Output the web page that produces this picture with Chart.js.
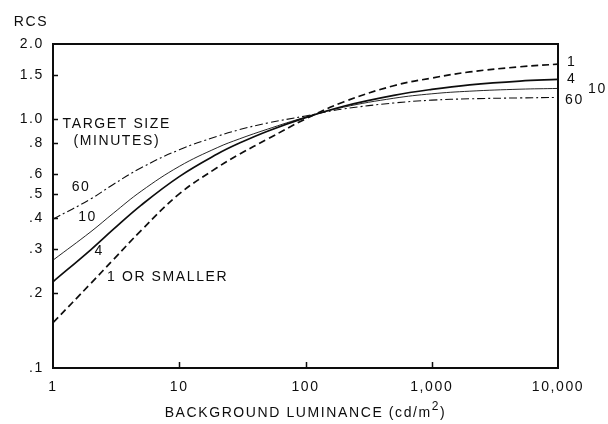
<!DOCTYPE html>
<html>
<head>
<meta charset="utf-8">
<script src="https://cdn.jsdelivr.net/npm/chart.js@4.4.1/dist/chart.umd.min.js"></script>
<style>
  html, body { margin: 0; padding: 0; background: #fff; }
  #wrap { width: 608px; height: 424px; }
</style>
</head>
<body>
<div id="wrap"><canvas id="rcs" width="608" height="424"></canvas></div>
<script>
// background luminance (cd/m2) sample points
const luminance = [1, 2, 3, 5, 10, 20, 30, 50, 100, 200, 500, 1000, 2000, 5000, 10000];

// relative contrast sensitivity per target size (minutes)
const rcs1  = [0.152, 0.219, 0.272, 0.357, 0.500, 0.638, 0.722, 0.830, 1.00, 1.17, 1.36, 1.46, 1.545, 1.62, 1.66];
const rcs4  = [0.222, 0.299, 0.360, 0.451, 0.587, 0.723, 0.800, 0.893, 1.012, 1.125, 1.244, 1.315, 1.371, 1.420, 1.442];
const rcs10 = [0.271, 0.353, 0.418, 0.513, 0.645, 0.767, 0.832, 0.910, 1.017, 1.115, 1.211, 1.262, 1.293, 1.317, 1.326];
const rcs60 = [0.396, 0.478, 0.546, 0.637, 0.752, 0.852, 0.906, 0.963, 1.028, 1.097, 1.159, 1.19, 1.205, 1.215, 1.22];

const seriesNames = ['1', '4', '10', '60'];

const xTicks = [1, 10, 100, 1000, 10000];
const xTickLabels = ['1', '10', '100', '1,000', '10,000'];
const yTicks = [0.1, 0.2, 0.3, 0.4, 0.5, 0.6, 0.8, 1.0, 1.5, 2.0];
const yTickLabels = ['.1', '.2', '.3', '.4', '.5', '.6', '.8', '1.0', '1.5', '2.0'];

// text notes inside the plot, placed in data units
const noteText = ['TARGET SIZE', '(MINUTES)', '60', '10', '4', '1 OR SMALLER'];
const noteX = [3.2, 3.2, 1.67, 1.88, 2.32, 2.68];
const noteY = [0.955, 0.816, 0.531, 0.402, 0.295, 0.231];
const noteAlign = ['center', 'center', 'center', 'center', 'center', 'left'];

const ink = '#0d0d0d';
const FONT = '"Liberation Sans", Arial, Helvetica, sans-serif';

Chart.defaults.font.family = FONT;
Chart.defaults.font.size = 14;
Chart.defaults.color = ink;

const toPts = arr => arr.map((v, i) => ({ x: luminance[i], y: v }));

const lineStyle = [
  { borderWidth: 1.7, borderDash: [7, 4] },
  { borderWidth: 1.7, borderDash: [] },
  { borderWidth: 0.9, borderDash: [] },
  { borderWidth: 1.1, borderDash: [8, 3, 2, 3] }
];

const datasets = [rcs1, rcs4, rcs10, rcs60].map((arr, i) => Object.assign({
  label: seriesNames[i],
  data: toPts(arr),
  borderColor: ink,
  pointRadius: 0,
  fill: false,
  tension: 0.4
}, lineStyle[i]));

// end-of-curve label offsets (px right of the frame)
const endDx = [9, 9, 30, 7];
const endDy = [-2, 0, 1, 3];

const spacing = ctx => { ctx.letterSpacing = '1.6px'; };

const decor = {
  id: 'decor',
  beforeDraw(chart) { spacing(chart.ctx); },
  afterDraw(chart) {
    const { ctx, chartArea: a, scales } = chart;
    const xs = scales.x, ys = scales.y;
    ctx.save();
    spacing(ctx);
    ctx.strokeStyle = ink;
    ctx.lineWidth = 2;
    ctx.strokeRect(a.left, a.top, a.right - a.left, a.bottom - a.top);

    // small inward ticks
    ctx.lineWidth = 1.5;
    ctx.beginPath();
    yTicks.slice(1, -1).forEach(v => {
      const y = Math.round(ys.getPixelForValue(v)) + 0.5;
      ctx.moveTo(a.left, y); ctx.lineTo(a.left + 5, y);
    });
    xTicks.slice(1, -1).forEach(v => {
      const x = Math.round(xs.getPixelForValue(v)) + 0.5;
      ctx.moveTo(x, a.bottom); ctx.lineTo(x, a.bottom - 6);
    });
    ctx.stroke();

    ctx.fillStyle = ink;
    ctx.font = '14px ' + FONT;
    ctx.textBaseline = 'middle';

    noteText.forEach((t, i) => {
      ctx.textAlign = noteAlign[i];
      ctx.fillText(t, xs.getPixelForValue(noteX[i]), ys.getPixelForValue(noteY[i]));
    });

    // labels at the right end of each curve
    ctx.textAlign = 'left';
    datasets.forEach((ds, i) => {
      const last = ds.data[ds.data.length - 1];
      ctx.fillText(ds.label, a.right + endDx[i], ys.getPixelForValue(last.y) + endDy[i]);
    });

    // y axis title
    ctx.textAlign = 'center';
    ctx.fillText('RCS', a.left - 22, a.top - 22);

    // x axis title with superscript
    const main = 'BACKGROUND LUMINANCE (cd/m';
    ctx.font = '14px ' + FONT;
    const w1 = ctx.measureText(main).width;
    ctx.font = '12px ' + FONT;
    const w2 = ctx.measureText('2').width;
    ctx.font = '14px ' + FONT;
    const w3 = ctx.measureText(')').width;
    const cx = (a.left + a.right) / 2;
    const x0 = cx - (w1 + w2 + w3) / 2;
    const by = chart.height - 12;
    ctx.textAlign = 'left';
    ctx.textBaseline = 'alphabetic';
    ctx.fillText(main, x0, by + 5);
    ctx.font = '12px ' + FONT;
    ctx.fillText('2', x0 + w1, by - 2);
    ctx.font = '14px ' + FONT;
    ctx.fillText(')', x0 + w1 + w2, by + 5);
    ctx.restore();
  }
};

new Chart(document.getElementById('rcs'), {
  type: 'line',
  data: { datasets },
  options: {
    responsive: false,
    animation: false,
    devicePixelRatio: 1,
    layout: { padding: { top: 44, right: 50, left: 0, bottom: 0 } },
    plugins: { legend: { display: false }, tooltip: { enabled: false } },
    scales: {
      x: {
        type: 'logarithmic',
        min: 1,
        max: 10000,
        grid: { display: false, drawTicks: false },
        border: { display: false },
        afterBuildTicks: s => { s.ticks = xTicks.map(v => ({ value: v })); },
        afterFit: s => { s.height = 56; },
        ticks: {
          autoSkip: false,
          maxRotation: 0,
          padding: 11,
          callback: v => xTickLabels[xTicks.indexOf(v)]
        }
      },
      y: {
        type: 'logarithmic',
        min: 0.1,
        max: 2.0,
        grid: { display: false, drawTicks: false },
        border: { display: false },
        afterBuildTicks: s => { s.ticks = yTicks.map(v => ({ value: v })); },
        afterFit: s => { s.width = 53; },
        ticks: {
          autoSkip: false,
          padding: 9,
          callback: v => yTickLabels[yTicks.indexOf(v)]
        }
      }
    }
  },
  plugins: [decor]
});
</script>
</body>
</html>
